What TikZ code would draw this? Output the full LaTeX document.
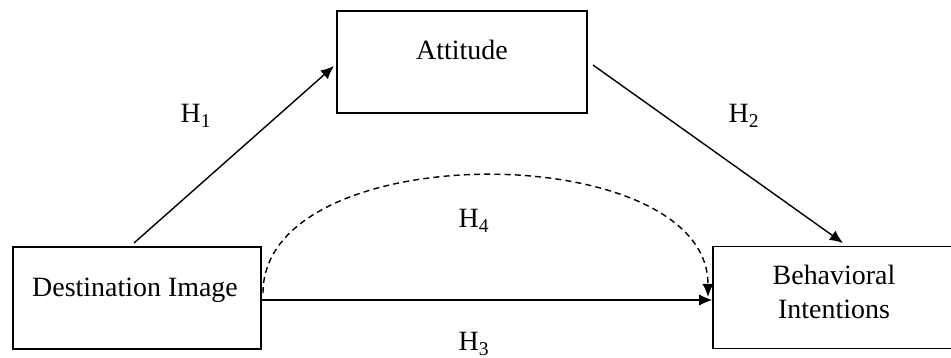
\documentclass[tikz,border=0pt]{standalone}
\usepackage{fontspec}
\setmainfont{Liberation Serif}
\usetikzlibrary{arrows.meta, positioning}
\tikzset{
    box/.style={
        draw,
        line width=0.9pt,
        minimum width=4.96cm,
        minimum height=2.04cm,
        inner sep=0pt
    },
    boxtext/.style={
        align=center,
        inner sep=0pt,
        font=\fontsize{15.9}{19.3}\selectfont
    },
    hlabel/.style={font=\fontsize{15.9}{18}\selectfont, inner sep=0pt},
    line/.style={-{Latex[length=7.5pt,width=6.5pt]}, line width=0.8pt},
    dashedline/.style={-{Latex[length=7.5pt,width=6.5pt]}, line width=0.8pt, dash pattern=on 3.4pt off 2.4pt}
}

\begin{document}
\begin{tikzpicture}[x=0.02cm, y=-0.02cm]
\useasboundingbox (0,0) rectangle (951,358);

% boxes
\node[box] (dest) at (137,298) {};
\node[box, minimum width=5cm] (att) at (462,62) {};
\node[box] (beh) at (837,297.5) {};

\node[boxtext] (destlbl) at (135,290) {Destination Image};
\node[boxtext] (attlbl) at (462,50) {Attitude};
\node[boxtext] (behlbl) at (834,292) {Behavioral\\Intentions};

% end points
\coordinate (h1s) at (134,243);
\coordinate (h1e) at (334,66);
\coordinate (h2s) at (593,65);
\coordinate (h2e) at (843,243);
\coordinate (h3s) at (261,300);
\coordinate (h4s) at (263,293);
\coordinate (h4e) at (708,297);

\draw[line] (h1s) -- (h1e);
\draw[line] (h2s) -- (h2e);
\draw[line] (h3s) -- (h3s -| beh.west);
\draw[dashedline] (h4s) .. controls (263,135) and (708,137) .. (h4e);

% hypotheses
\node[hlabel] (h1) at (196,116) {H\textsubscript{1}};
\node[hlabel] (h2) at (744,116) {H\textsubscript{2}};
\node[hlabel] (h3) at (474,344) {H\textsubscript{3}};
\node[hlabel] (h4) at (474,221) {H\textsubscript{4}};
\end{tikzpicture}
\end{document}
